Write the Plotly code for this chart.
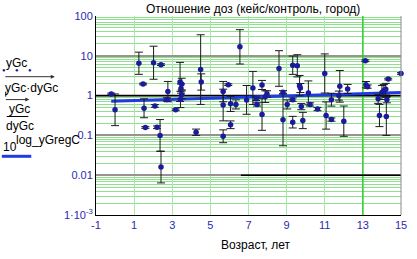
import plotly.graph_objects as go

# ---- data ----
age = [-0.2, 0.0, 1.25, 1.47, 2.02, 2.41, 2.77, 2.72, 1.52, 2.09, 1.59, 2.2, 2.36, 2.41,
       3.18, 3.41, 3.5, 3.46, 3.5, 3.43, 4.25, 4.49, 4.52, 6.55, 5.67, 5.67, 5.67, 5.94,
       6.06, 6.06, 6.34, 6.9, 7.23, 7.4, 7.45, 7.71, 7.71, 7.88, 7.97, 8.6, 8.81, 8.81,
       9.03, 9.32, 9.56, 9.32, 9.32, 9.68, 9.72, 9.77, 9.85, 10.14, 10.23, 10.62, 11.0,
       11.07, 11.35, 11.35, 11.79, 11.74, 12.0, 12.2, 13.13, 13.16, 13.25, 13.8, 13.87,
       14.0, 14.1, 14.2, 14.23, 14.33, 14.26, 15.0]
ratio = [1.1, 0.44, 6.5, 1.96, 6.7, 6.0, 1.26, 0.8, 0.48, 0.55, 0.158, 0.16, 0.10, 0.016,
         0.44, 2.2, 1.95, 1.5, 1.05, 0.8, 0.12, 4.5, 2.2, 16.8, 1.26, 0.58, 0.095, 1.88,
         0.62, 0.185, 0.6, 0.78, 1.56, 0.83, 0.6, 1.85, 0.335, 0.94, 1.1, 4.8, 1.21, 0.247,
         0.6, 5.8, 5.6, 0.79, 0.215, 1.78, 1.55, 0.53, 0.237, 1.17, 0.6, 0.46, 3.6,
         0.316, 0.79, 0.25, 1.71, 1.0, 0.228, 1.47, 7.5, 1.88, 1.68, 0.83, 0.316,
         1.2, 1.35, 1.45, 0.30, 2.6, 0.79, 3.6]
dratio = [1.05, 2.5, 1.9, 1.05, 2.6, 1.05, 1.8, 1.1, 1.73, 1.08, 1.05, 1.08, 2.5, 2.5,
          1.05, 3.1, 1.4, 1.3, 1.25, 1.6, 1.2, 7.5, 1.6, 2.7, 1.8, 2.5, 1.45, 1.05,
          1.55, 1.25, 1.3, 2.3, 2.6, 1.1, 1.1, 1.3, 2.5, 1.4, 1.2, 2.8, 1.1, 4.5,
          1.3, 1.7, 1.9, 1.1, 1.4, 1.8, 1.3, 1.2, 1.6, 2.0, 1.1, 1.1, 3.1,
          2.2, 1.45, 1.1, 2.5, 1.3, 2.4, 1.3, 1.05, 1.2, 1.1, 1.3, 1.9,
          1.5, 1.4, 1.4, 3.0, 1.05, 1.2, 1.05]

reg_age = [-0.2, 15.0]
reg_ratio = [0.72, 1.19]

ref1_x = [-1, 15]
ref1_y = [1, 1]
ref2_x = [6.6, 15]
ref2_y = [0.01, 0.01]
mark13_x = [13, 13]
mark13_y = [1e-3, 100]

x_ticks = [-1, 1, 3, 5, 7, 9, 11, 13, 15]
x_ticktext = ["-1", "1", "3", "5", "7", "9", "11", "13", "15"]
y_ticks = [1e-3, 0.01, 0.1, 1, 10, 100]
y_ticktext = ["1·10<sup>-3</sup>", "0.01", "0.1", "1", "10", "100"]

title_text = "Отношение доз (кейс/контроль, город)"
xlabel = "Возраст, лет"

# ---- geometry helpers (pixel -> paper) ----
L, R, T, B = 96, 407, 15, 215
W, H = 417, 259
def px(x):
    return (x - L) / (R - L)
def py(y):
    return (B - y) / (B - T)

minor_vals = [m * 10.0 ** e for e in range(-3, 2) for m in range(2, 10)]

err_up = [y * d - y for y, d in zip(ratio, dratio)]
err_dn = [y - y / d for y, d in zip(ratio, dratio)]

fig = go.Figure()
fig.add_trace(go.Scatter(x=mark13_x, y=mark13_y, mode="lines",
                         line=dict(color="#2ccc2c", width=1.5), hoverinfo="skip"))
fig.add_trace(go.Scatter(x=ref1_x, y=ref1_y, mode="lines",
                         line=dict(color="black", width=1.5), hoverinfo="skip"))
fig.add_trace(go.Scatter(x=ref2_x, y=ref2_y, mode="lines",
                         line=dict(color="black", width=1.5), hoverinfo="skip"))
fig.add_trace(go.Scatter(x=reg_age, y=reg_ratio, mode="lines",
                         line=dict(color="#1e3ce0", width=3), hoverinfo="skip"))
fig.add_trace(go.Scatter(
    x=age, y=ratio, mode="markers",
    marker=dict(color="#1a1a9c", size=5.5),
    error_y=dict(type="data", symmetric=False, array=err_up, arrayminus=err_dn,
                 color="#1a1a1a", thickness=1, width=4),
    cliponaxis=False))

fig.update_layout(
    width=W, height=H, showlegend=False,
    margin=dict(l=L, r=W - R, t=T, b=H - B),
    paper_bgcolor="white", plot_bgcolor="white",
    font=dict(family="Liberation Sans, Arial, sans-serif", size=12, color="black"),
    xaxis=dict(range=[-1, 15], tickvals=x_ticks, ticktext=x_ticktext,
               showgrid=True, gridcolor="#a6eaa6", gridwidth=1,
               showline=True, linecolor="black", linewidth=1, ticks="",
               zeroline=False, tickfont=dict(size=11, color="#2a2ab0")),
    yaxis=dict(type="log", range=[-3, 2], tickvals=y_ticks, ticktext=y_ticktext,
               showgrid=True, gridcolor="#9a9292", gridwidth=2,
               minor=dict(tickvals=minor_vals, showgrid=True, gridcolor="#8fe08f",
                          gridwidth=1, ticks=""),
               showline=True, linecolor="black", linewidth=1, ticks="",
               zeroline=False, tickfont=dict(size=11, color="#2a2ab0")),
)

ann = []
ann.append(dict(text=title_text, x=px(256), y=py(8), xref="paper", yref="paper",
                showarrow=False, font=dict(size=12, color="black"),
                xanchor="center", yanchor="middle"))
ann.append(dict(text=xlabel, x=px(259), y=py(245), xref="paper", yref="paper",
                showarrow=False, font=dict(size=12, color="black"),
                xanchor="center", yanchor="middle"))
# Mathcad-style trace labels at the left
def lab(t, x, y, size=12, color="black"):
    ann.append(dict(text=t, x=px(x), y=py(y), xref="paper", yref="paper",
                    showarrow=False, font=dict(size=size, color=color),
                    xanchor="left", yanchor="middle"))
lab("yGc", 2, 62)
for dx in [2, 15, 29]:
    ann.append(dict(text="●", x=px(dx), y=py(69), xref="paper", yref="paper",
                    showarrow=False, font=dict(size=6, color="#1a1a9c"),
                    xanchor="center", yanchor="middle"))
lab("yGc·dyGc", 1, 87)
lab("yGc", 5, 108)
lab("dyGc", 2, 126)
lab("10", -1, 147)
lab("log_yGregC", 12, 140)
# arrows
for x0, x1, yy in [(3, 54, 76), (3, 28, 99)]:
    ann.append(dict(text="", x=px(x1), y=py(yy), xref="paper", yref="paper",
                    ax=x0 - x1, ay=0, showarrow=True, arrowhead=2, arrowsize=0.8,
                    arrowwidth=1, arrowcolor="#333333"))
fig.update_layout(annotations=ann)

shapes = [
    dict(type="line", xref="paper", yref="paper", x0=px(0), x1=px(30), y0=py(156), y1=py(156),
         line=dict(color="#1e3ce0", width=3)),
    dict(type="line", xref="paper", yref="paper", x0=px(5), x1=px(27), y0=py(116), y1=py(116),
         line=dict(color="black", width=1)),
    dict(type="line", xref="paper", yref="paper", x0=px(4), x1=px(4), y0=py(91), y1=py(96),
         line=dict(color="black", width=1)),
    dict(type="line", xref="paper", yref="paper", x0=1, x1=1, y0=0, y1=1,
         line=dict(color="#8a8a8a", width=1)),
]
fig.update_layout(shapes=shapes)

fig.write_html("out.html", config={"displayModeBar": False},
               post_script="document.body.style.margin='0';document.body.style.overflow='hidden';")
